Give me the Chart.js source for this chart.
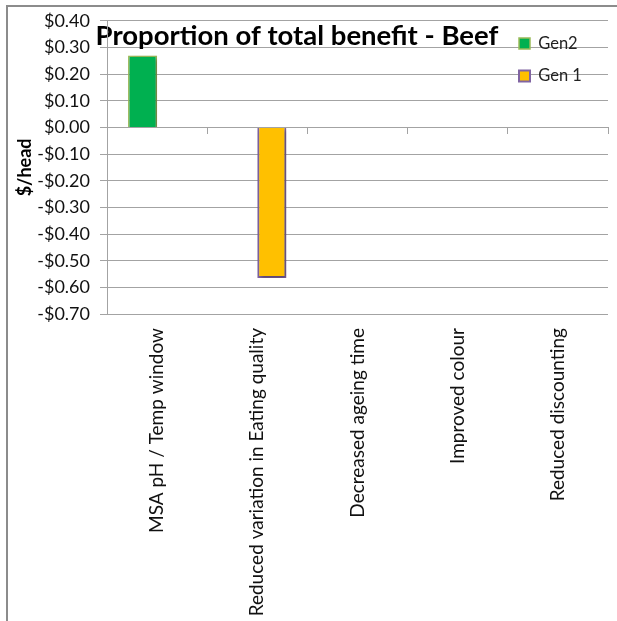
<!DOCTYPE html>
<html><head><meta charset="utf-8">
<script src="https://cdn.jsdelivr.net/npm/chart.js@4"></script>
<style>
html,body{margin:0;padding:0;background:#fff;overflow:hidden;}
#wrap{position:relative;width:617px;height:621px;}
#frame{position:absolute;left:6px;top:5px;width:700px;height:700px;border-top:2px solid #8c8c8c;border-left:2px solid #8c8c8c;pointer-events:none;}
</style></head><body>
<div id="wrap"><canvas id="c" width="617" height="621"></canvas><div id="frame"></div></div>
<script>
const categories = ['MSA pH / Temp window', 'Reduced variation in Eating quality', 'Decreased ageing time', 'Improved colour', 'Reduced discounting'];
const gen2Values = [0.27, null, null, null, null];
const gen1Values = [null, -0.565, null, null, null];
const yTickValues = [-0.7, -0.6, -0.5, -0.4, -0.3, -0.2, -0.1, 0, 0.1, 0.2, 0.3, 0.4];
const yTickLabels = ['-$0.70', '-$0.60', '-$0.50', '-$0.40', '-$0.30', '-$0.20', '-$0.10', '$0.00', '$0.10', '$0.20', '$0.30', '$0.40'];

const FAMILY = 'Lato, "Open Sans", sans-serif';
const GRID = '#a3a3a3';
const TXT = '#111111';

const placer = {
  id: 'placer',
  beforeDraw(chart) {
    const ca = chart.chartArea;
    const lg = chart.legend;
    if (lg) {
      const w = lg.width, h = lg.height;
      lg.left = ca.right - 105; lg.right = lg.left + w;
      lg.top = ca.top - 1.5; lg.bottom = lg.top + h;
    }
    const t = chart.titleBlock;
    if (t) { t.left = 0; t.right = 594; }
  }
};
const shadow = {
  id: 'shadow',
  beforeDatasetsDraw(chart) {
    const ctx = chart.ctx; ctx.save();
    ctx.shadowColor = 'rgba(0,0,0,0.35)'; ctx.shadowBlur = 4; ctx.shadowOffsetX = 2; ctx.shadowOffsetY = 2;
  },
  afterDatasetsDraw(chart) { chart.ctx.restore(); }
};

new Chart(document.getElementById('c'), {
  type: 'bar',
  data: {
    labels: categories,
    datasets: [
      { label: 'Gen2', data: gen2Values, backgroundColor: '#00B050', borderColor: '#9BBB59', borderWidth: 1.5 },
      { label: 'Gen 1', data: gen1Values, backgroundColor: '#FFC000', borderColor: '#8064A2', borderWidth: 2 }
    ]
  },
  plugins: [placer, shadow],
  options: {
    responsive: false, animation: false, devicePixelRatio: 1,
    categoryPercentage: 0.58, barPercentage: 1,
    layout: { padding: { left: 8, right: 9, top: 0, bottom: 0 } },
    plugins: {
      title: { display: true, text: 'Proportion of total benefit - Beef', color: '#000', font: { family: FAMILY, size: 27.5, weight: 'bold' }, padding: { top: 17, bottom: -32 } },
      legend: { position: 'chartArea', align: 'start', labels: { boxWidth: 11, boxHeight: 11, padding: 16, color: '#222', font: { family: FAMILY, size: 16.5 } } },
      tooltip: { enabled: false }
    },
    scales: {
      x: {
        type: 'category', position: { y: 0 }, offset: true,
        grid: { offset: true, drawOnChartArea: false, drawTicks: true, tickLength: 7, color: GRID },
        border: { display: false }, ticks: { display: false }
      },
      x2: {
        type: 'category', labels: categories, position: 'bottom', offset: true,
        grid: { display: false, drawTicks: false }, border: { display: false },
        ticks: { minRotation: 90, maxRotation: 90, padding: 14, autoSkip: false, color: TXT, font: { family: FAMILY, size: 19 } },
        afterFit: s => { s.height = 307; }
      },
      y: {
        min: -0.7, max: 0.4,
        afterBuildTicks: s => { s.ticks = yTickValues.map(v => ({ value: v })); },
        ticks: { callback: (v, i) => yTickLabels[i], padding: 10, color: TXT, font: { family: FAMILY, size: 18 } },
        grid: { color: GRID, tickLength: 7 },
        border: { display: true, color: GRID },
        title: { display: true, text: '$/head', color: '#000', font: { family: FAMILY, size: 18, weight: 'bold' }, padding: { top: 6, bottom: 0 } },
        afterFit: s => { s.width = 99; }
      }
    }
  }
});
</script>
</body></html>
